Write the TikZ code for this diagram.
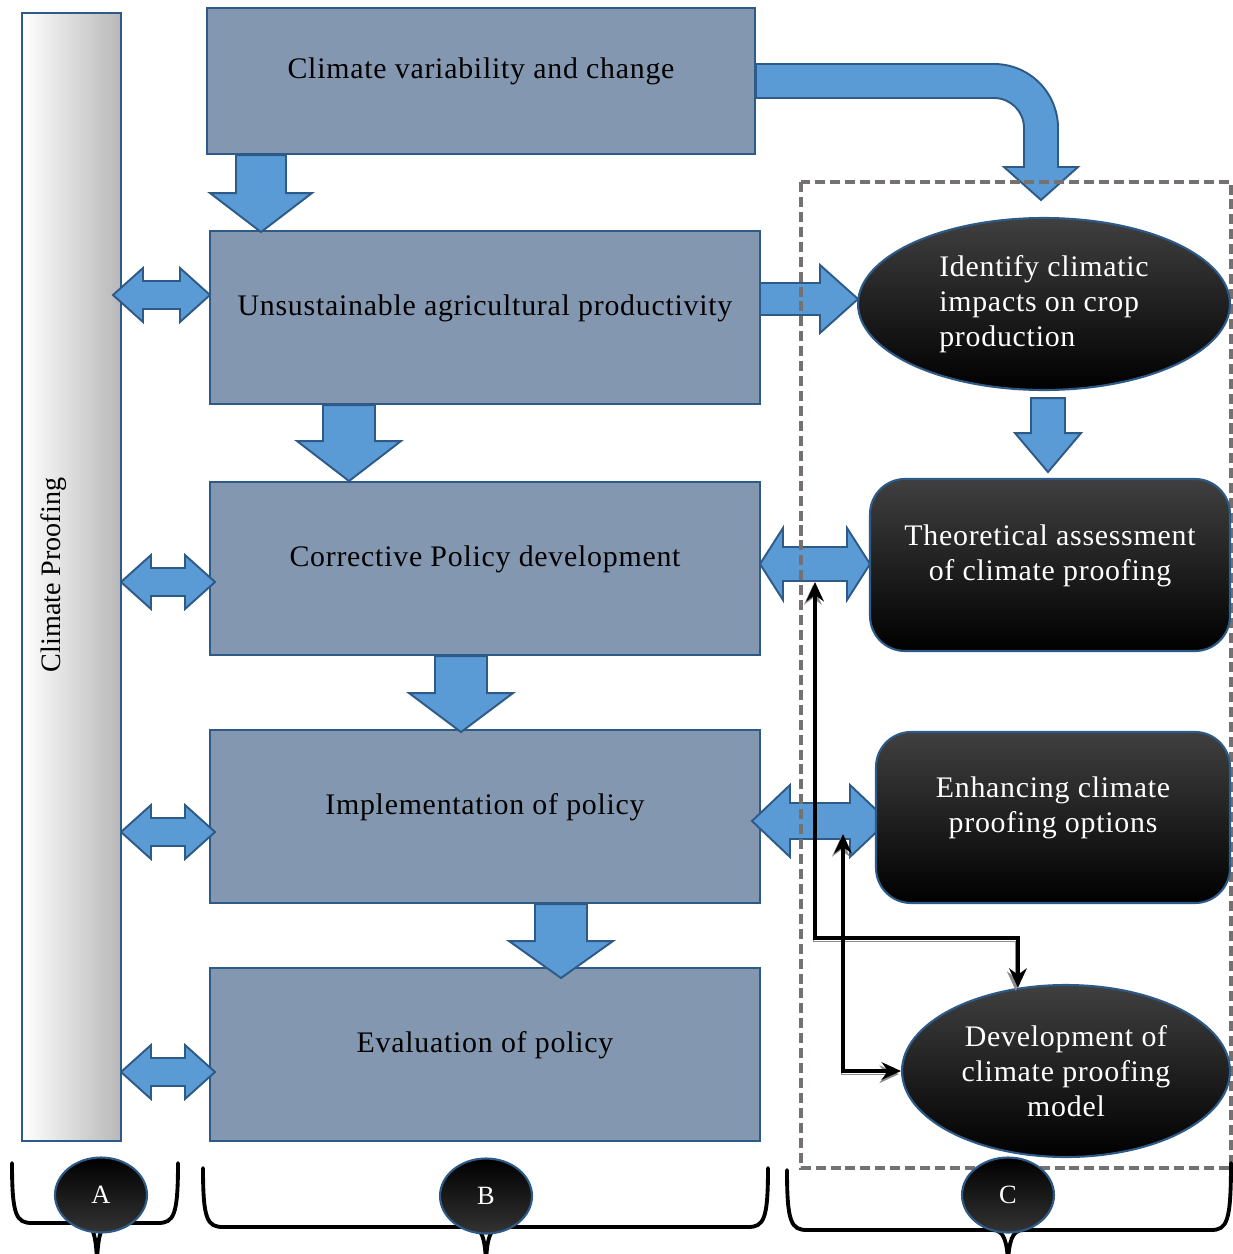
\documentclass[tikz,border=0pt]{standalone}
\usepackage{fontspec}
\setmainfont{Liberation Serif}
\newfontfamily\boxfont[LetterSpace=2.5]{Liberation Serif}
\usetikzlibrary{shapes.geometric,arrows.meta,calc}
\definecolor{boxfill}{HTML}{8497B0}
\definecolor{boxedge}{HTML}{2E5A88}
\definecolor{arrfill}{HTML}{5B9BD5}
\definecolor{framegray}{HTML}{767171}

\begin{document}
\begin{tikzpicture}[x=0.02cm, y=-0.02cm,
  stage/.style={draw=boxedge, line width=1.2pt, fill=boxfill, inner sep=0pt,
    minimum width=11cm, minimum height=3.46cm, text depth=0.5cm,
    font=\boxfont\fontsize{17}{20}\selectfont},
  darkbox/.style={draw=boxedge, line width=1.2pt, top color=black!75, bottom color=black,
    rounded corners=0.7cm, text=white, align=center, inner sep=0pt, text depth=0.5cm,
    font=\boxfont\fontsize{17}{20}\selectfont},
  darkoval/.style={ellipse, draw=boxedge, line width=1.2pt, top color=black!75, bottom color=black,
    text=white, inner sep=0pt, font=\boxfont\fontsize{17}{20}\selectfont},
  tag/.style={ellipse, draw=boxedge, line width=1.2pt, top color=black, bottom color=black!80,
    text=white, minimum width=1.84cm, minimum height=1.5cm, inner sep=0pt,
    font=\fontsize{15}{17}\selectfont},
  blockarr/.style={fill=arrfill, draw=boxedge, line width=1.1pt, line join=miter},
  dashframe/.style={draw=framegray, line width=1.8pt, dash pattern=on 5.7pt off 2.8pt},
  link/.style={line width=2.2pt, {Stealth[length=11pt,width=10pt]}-{Stealth[length=11pt,width=10pt]},
    preaction={draw=black!45, transform canvas={xshift=-1.2pt,yshift=-1.8pt}}},
  groupbrace/.style={line width=2.2pt, line cap=round}]
\useasboundingbox (0,0) rectangle (1233,1254);

% column A
\node[draw=boxedge, line width=1.2pt, left color=white, middle color=black!4, right color=black!28,
  minimum width=1.98cm, minimum height=22.56cm, inner sep=0pt] (colA) at (71.5,577) {};
\node[rotate=90, font=\fontsize{16}{19}\selectfont] (colAtext) at (54,575) {Climate Proofing};

% column B
\node[stage, minimum width=10.96cm, minimum height=2.92cm] (b1) at (481,81) {Climate variability and change};
\node[stage] (b2) at (485,317.5) {Unsustainable agricultural productivity};
\node[stage] (b3) at (485,568.5) {Corrective Policy development};
\node[stage] (b4) at (485,816.5) {Implementation of policy};
\node[stage] (b5) at (485,1054.5) {Evaluation of policy};

% down arrows between the stages
\draw[blockarr] ($(b1.south)+(-245,0)$) -- ++(50,0) -- ++(0,38) -- ++(26,0) -- ++(-51,39) -- ++(-51,-39) -- ++(26,0) -- cycle;
\draw[blockarr] ($(b2.south)+(-162,0)$) -- ++(52,0) -- ++(0,36) -- ++(26,0) -- ++(-52,40) -- ++(-52,-40) -- ++(26,0) -- cycle;
\draw[blockarr] ($(b3.south)+(-50,0)$) -- ++(52,0) -- ++(0,37) -- ++(26,0) -- ++(-52,39) -- ++(-52,-39) -- ++(26,0) -- cycle;
\draw[blockarr] ($(b4.south)+(50,0)$) -- ++(52,0) -- ++(0,37) -- ++(26,0) -- ++(-52,37) -- ++(-52,-37) -- ++(26,0) -- cycle;

% bent arrow from the top box
\draw[blockarr] ($(b1.east)+(0,-17)$) -- ++(238,0) arc[start angle=-90, end angle=0, radius=64]
  -- ++(0,39) -- ++(20,0) -- ++(-37,33) -- ++(-37,-33) -- ++(20,0) -- ++(0,-39)
  arc[start angle=0, end angle=-90, radius=30] -- ($(b1.east)+(0,17)$) -- cycle;

% double arrows to column A
\draw[blockarr] (113,295) -- ++(30,-27) -- ++(0,13) -- ++(37,0) -- ++(0,-13) -- ++(30,27) -- ++(-30,27) -- ++(0,-13) -- ++(-37,0) -- ++(0,13) -- cycle;
\draw[blockarr] (121,582) -- ++(30,-27) -- ++(0,13) -- ++(34,0) -- ++(0,-13) -- ++(30,27) -- ++(-30,27) -- ++(0,-13) -- ++(-34,0) -- ++(0,13) -- cycle;
\draw[blockarr] (121,832) -- ++(30,-27) -- ++(0,13) -- ++(34,0) -- ++(0,-13) -- ++(30,27) -- ++(-30,27) -- ++(0,-13) -- ++(-34,0) -- ++(0,13) -- cycle;
\draw[blockarr] (121,1072) -- ++(30,-27) -- ++(0,13) -- ++(34,0) -- ++(0,-13) -- ++(30,27) -- ++(-30,27) -- ++(0,-13) -- ++(-34,0) -- ++(0,13) -- cycle;

% arrows to column C
\draw[blockarr] (760,283) -- ++(60,0) -- ++(0,-18) -- ++(38,34) -- ++(-38,34) -- ++(0,-18) -- ++(-60,0) -- cycle;
\draw[blockarr] (760,564) -- ++(23,-36) -- ++(0,19) -- ++(64,0) -- ++(0,-19) -- ++(23,36) -- ++(-23,36) -- ++(0,-19) -- ++(-64,0) -- ++(0,19) -- cycle;
\draw[blockarr] (752,821) -- ++(38,-36) -- ++(0,18) -- ++(60,0) -- ++(0,-18) -- ++(38,36) -- ++(-38,36) -- ++(0,-18) -- ++(-60,0) -- ++(0,18) -- cycle;

% column C frame
\draw[dashframe] (801,182) rectangle (1231,1168);

% column C
\node[darkoval, minimum width=7.44cm, minimum height=3.44cm, align=left] (idc) at (1044,304)
  {Identify climatic\\impacts on crop\\production};
\node[darkbox, minimum width=7.2cm, minimum height=3.44cm] (theo) at (1050,565)
  {Theoretical assessment\\of climate proofing};
\node[darkbox, minimum width=7.08cm, minimum height=3.42cm] (enh) at (1053,817.5)
  {Enhancing climate\\proofing options};
\node[darkoval, minimum width=6.56cm, minimum height=3.44cm, align=center] (dev) at (1066,1071)
  {Development of\\climate proofing\\model};
\draw[blockarr] ($(idc.south)+(-13,7)$) -- ++(34,0) -- ++(0,35) -- ++(16,0) -- ++(-33,39) -- ++(-33,-39) -- ++(16,0) -- cycle;

% feedback links
\coordinate (t6) at (815,582);
\coordinate (t7) at (843,834);
\draw[link] (t6) -- ++(0,356) -| (dev.120);
\draw[link] (t7) |- (dev.west);

% braces and tags
\draw[groupbrace] (12,1163) .. controls (12,1215) and (16,1223) .. (32,1223) -- (82,1223)
  .. controls (93,1223) and (96,1235) .. (97,1262) .. controls (98,1235) and (101,1223) .. (112,1223)
  -- (158,1223) .. controls (174,1223) and (178,1215) .. (178,1163);
\draw[groupbrace] (203,1168) .. controls (203,1219) and (207,1227) .. (223,1227) -- (471,1227)
  .. controls (482,1227) and (485,1239) .. (486,1262) .. controls (487,1239) and (490,1227) .. (501,1227)
  -- (748,1227) .. controls (764,1227) and (768,1219) .. (768,1168);
\draw[groupbrace] (787,1170) .. controls (787,1222) and (791,1230) .. (807,1230) -- (993,1230)
  .. controls (1004,1230) and (1007,1242) .. (1008,1262) .. controls (1009,1242) and (1012,1230) .. (1023,1230)
  -- (1211,1230) .. controls (1227,1230) and (1231,1222) .. (1231,1163);
\node[tag] (tagA) at (101,1195) {A};
\node[tag] (tagB) at (486,1196) {B};
\node[tag] (tagC) at (1008,1195) {C};
\end{tikzpicture}
\end{document}
